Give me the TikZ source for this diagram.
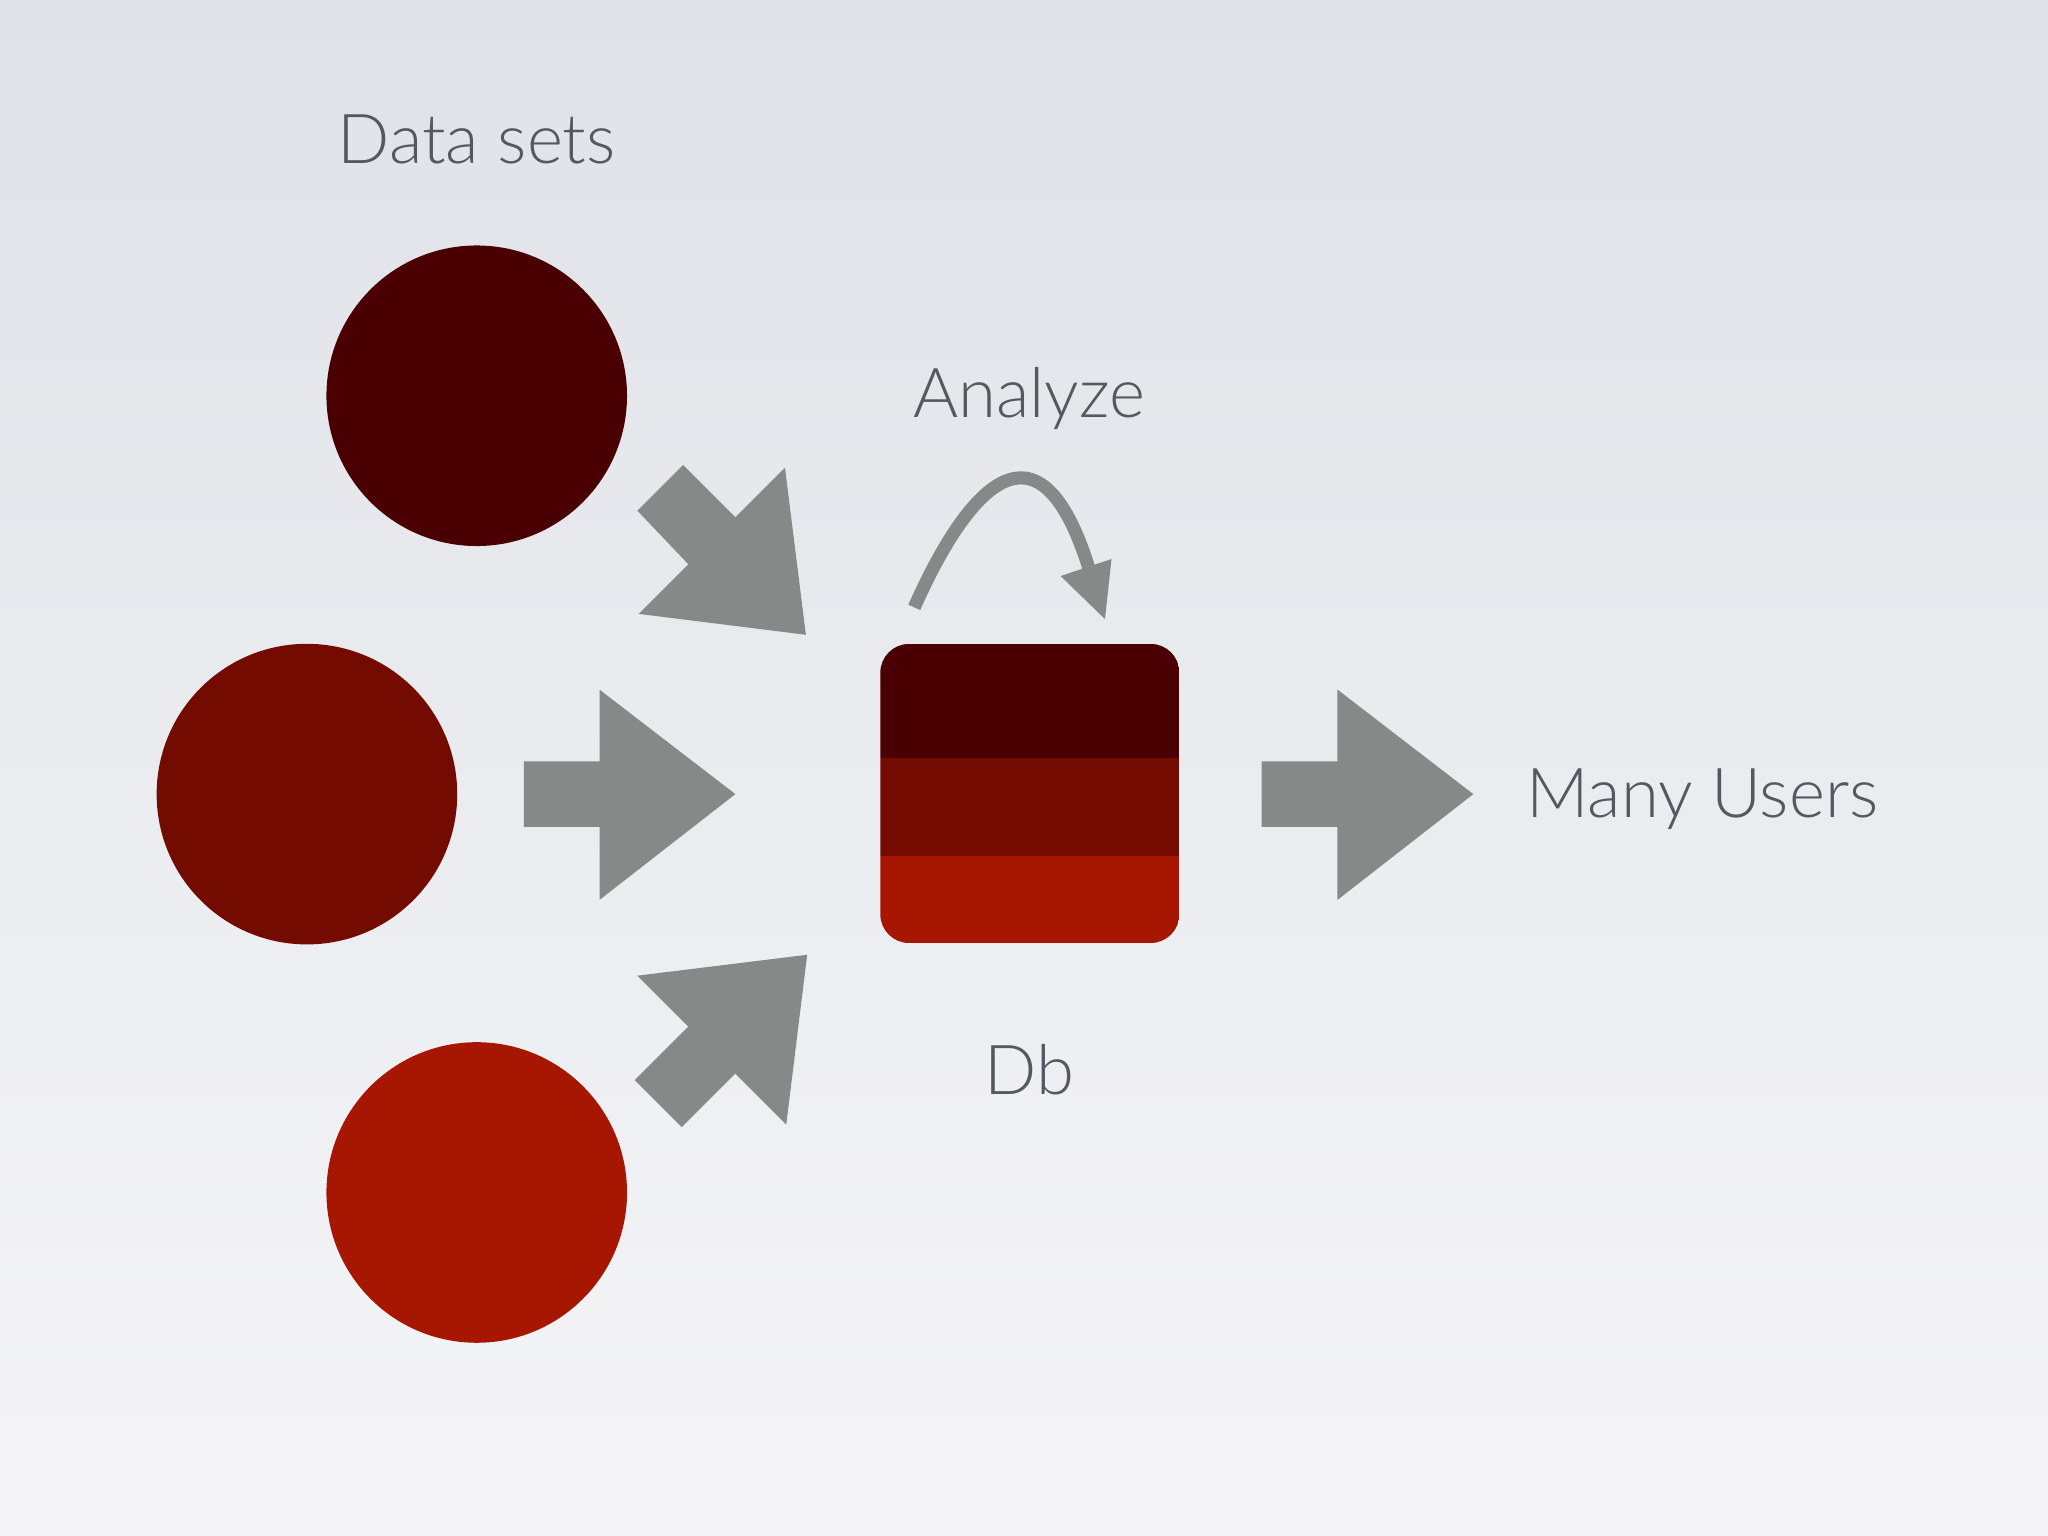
\documentclass[tikz,border=0pt]{standalone}
\usepackage{fontspec}
\setmainfont{Lato Light}[BoldFont=Lato]
\definecolor{dA}{HTML}{4A0002}
\definecolor{dB}{HTML}{730B00}
\definecolor{dC}{HTML}{A61600}
\definecolor{ag}{HTML}{858A88}
\definecolor{tx}{HTML}{555860}
\definecolor{bgt}{HTML}{DFE2E7}
\definecolor{bgb}{HTML}{F5F5F8}
\begin{document}
\begin{tikzpicture}[x=0.01cm,y=-0.01cm,
  lbl/.style={text=tx,font=\fontsize{15}{18}\selectfont,inner sep=0pt},
  arr/.style={fill=ag,draw=none}]
\shade[top color=bgt,bottom color=bgb] (0,0) rectangle (1568,1176);
\useasboundingbox (0,0) rectangle (1568,1176);
\node[circle,fill=dA,minimum size=2.3cm,inner sep=0pt] (c1) at (365,303) {};
\node[circle,fill=dB,minimum size=2.3cm,inner sep=0pt] (c2) at (235,608) {};
\node[circle,fill=dC,minimum size=2.3cm,inner sep=0pt] (c3) at (365,913) {};
\node[minimum width=2.29cm,minimum height=2.29cm,inner sep=0pt] (db) at (788.5,607.5) {};
\begin{scope}
\clip[rounded corners=0.22cm] (674,493) rectangle (903,722);
\fill[dA] (674,493) rectangle (903,580);
\fill[dB] (674,580) rectangle (903,655);
\fill[dC] (674,655) rectangle (903,722);
\end{scope}
\fill[arr] (401,583) -- (459,583) -- (459,528) -- (563,608) -- (459,689) -- (459,633) -- (401,633) -- cycle;
\fill[arr] (966,583) -- (1024,583) -- (1024,528) -- (1128,608) -- (1024,689) -- (1024,633) -- (966,633) -- cycle;
\fill[arr] (488,391) -- (523,356) -- (563,396) -- (601,358) -- (617,486) -- (489,470) -- (527,432) -- cycle;
\fill[arr] (486,827) -- (522,863) -- (563,822) -- (602,861) -- (618,731) -- (488,747) -- (527,786) -- cycle;
\coordinate (ca) at (700,465);
\coordinate (cb) at (834,436);
\draw[ag,line width=0.1cm] (ca) .. controls (740,375) and (795,310) .. (cb);
\fill[arr] (812,441) -- (851,428) -- (846,474) -- cycle;
\node[lbl] (t1) at (365,107) {Data sets};
\node[lbl] (t2) at (788,305) {Analyze};
\node[lbl] (t3) at (788,819) {Db};
\node[lbl,anchor=west] (t4) at (1168,612) {Many Users};
\end{tikzpicture}
\end{document}
